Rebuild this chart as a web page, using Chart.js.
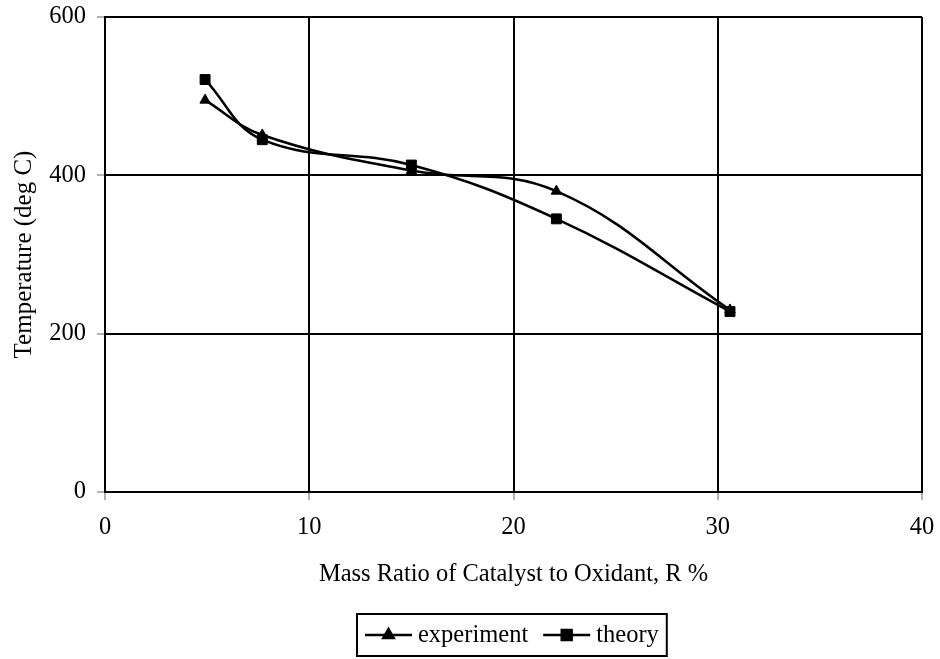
<!DOCTYPE html>
<html>
<head>
<meta charset="utf-8">
<script src="https://cdn.jsdelivr.net/npm/chart.js@4"></script>
<style>
  html, body { margin: 0; padding: 0; background: #fff; }
  #wrap { width: 940px; height: 659px; }
</style>
</head>
<body>
<div id="wrap"><canvas id="chart" width="940" height="659"></canvas></div>
<script>
const ratioExp = [4.9, 7.7, 15.0, 22.1, 30.6];
const tempExp = [495, 451, 406, 380, 230];
const ratioTheory = [4.9, 7.7, 15.0, 22.1, 30.6];
const tempTheory = [521, 445, 413, 345, 228];
const seriesNames = ['experiment', 'theory'];

const FONT = 'Liberation Serif, Times New Roman, serif';
const FS = 24.5;

function toPoints(xs, ys) {
    return xs.map((x, i) => ({ x: x, y: ys[i] }));
}

// legend box: line + marker, then the name, inside a black frame
const legendBox = {
    id: 'legendBox',
    afterDraw(chart) {
        const ctx = chart.ctx;
        ctx.save();
        ctx.font = FS + 'px ' + FONT;
        const lineLen = 47, pad = 8, gapText = 6, gapItem = 15;
        const widths = seriesNames.map(n => ctx.measureText(n).width);
        let total = pad * 2;
        widths.forEach((w, i) => { total += lineLen + gapText + w + (i ? gapItem : 0); });
        const top = 614, h = 42;
        const left = 357;
        ctx.strokeStyle = '#000';
        ctx.lineWidth = 2;
        ctx.strokeRect(left, top, total, h);
        let x = left + pad;
        const cy = top + h / 2;
        chart.data.datasets.forEach((ds, i) => {
            ctx.beginPath();
            ctx.lineWidth = 2.5;
            ctx.moveTo(x, cy);
            ctx.lineTo(x + lineLen, cy);
            ctx.stroke();
            ctx.fillStyle = '#000';
            Chart.helpers.drawPoint(ctx, { pointStyle: ds.pointStyle, radius: ds.pointRadius, borderWidth: 1 }, x + lineLen / 2, cy);
            ctx.fillStyle = '#000';
            ctx.textBaseline = 'middle';
            ctx.textAlign = 'left';
            ctx.fillText(seriesNames[i], x + lineLen + gapText, cy + 1);
            x += lineLen + gapText + widths[i] + gapItem;
        });
        ctx.restore();
    }
};

const ctx = document.getElementById('chart').getContext('2d');
const chart = new Chart(ctx, {
    type: 'scatter',
    data: {
        datasets: [
            {
                label: seriesNames[0],
                data: toPoints(ratioExp, tempExp),
                showLine: true,
                tension: 0.4,
                borderColor: '#000',
                backgroundColor: '#000',
                borderWidth: 2.5,
                pointStyle: 'triangle',
                pointRadius: 6,
                pointBorderWidth: 1
            },
            {
                label: seriesNames[1],
                data: toPoints(ratioTheory, tempTheory),
                showLine: true,
                tension: 0.4,
                borderColor: '#000',
                backgroundColor: '#000',
                borderWidth: 2.5,
                pointStyle: 'rect',
                pointRadius: 7,
                pointBorderWidth: 1
            }
        ]
    },
    options: {
        responsive: false,
        animation: false,
        layout: { autoPadding: false, padding: { left: 9, top: 17, right: 18, bottom: 70 } },
        plugins: {
            legend: { display: false },
            tooltip: { enabled: false }
        },
        scales: {
            x: {
                type: 'linear',
                min: 0,
                max: 40,
                ticks: { stepSize: 10, color: '#000', padding: 13, font: { family: FONT, size: FS } },
                grid: { color: '#000', lineWidth: 2, tickColor: '#666', tickWidth: 1, tickLength: 8 },
                border: { color: '#000', width: 2 },
                title: {
                    display: true,
                    text: 'Mass Ratio of Catalyst to Oxidant, R %',
                    color: '#000',
                    font: { family: FONT, size: FS },
                    padding: 0
                },
                afterFit(scale) {
                    scale.height = 97;
                    scale.paddingLeft = 0;
                    scale.paddingRight = 0;
                }
            },
            y: {
                min: 0,
                max: 600,
                ticks: { stepSize: 200, color: '#000', padding: 11, font: { family: FONT, size: FS } },
                grid: { color: '#000', lineWidth: 2, tickColor: '#666', tickWidth: 1, tickLength: 8 },
                border: { color: '#000', width: 2 },
                title: {
                    display: true,
                    text: 'Temperature (deg C)',
                    color: '#000',
                    font: { family: FONT, size: 25 },
                    padding: 0
                },
                afterFit(scale) {
                    scale.width = 96;
                    scale.paddingTop = 0;
                    scale.paddingBottom = 0;
                }
            }
        }
    },
    plugins: [legendBox]
});
</script>
</body>
</html>
